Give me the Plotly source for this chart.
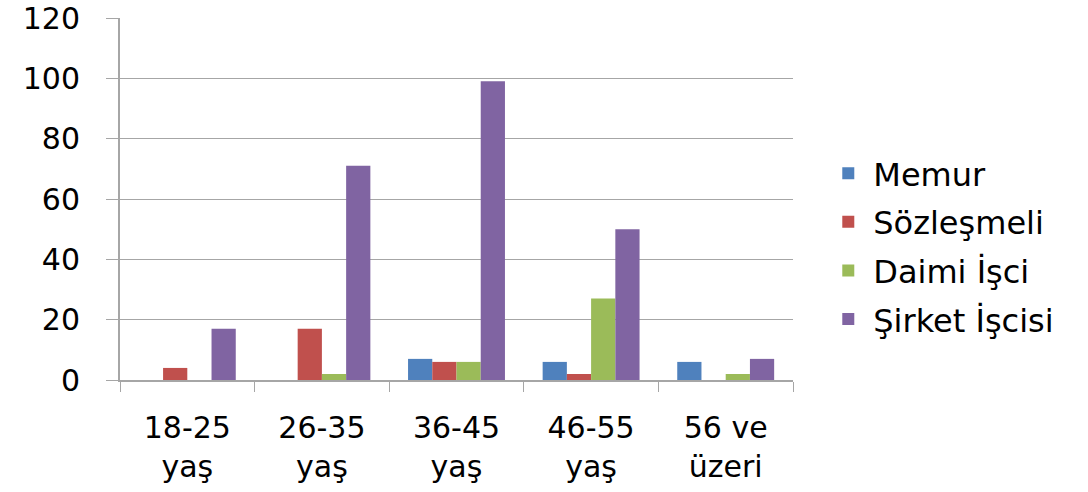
import plotly.graph_objects as go

categories = ["18-25<br>yaş", "26-35<br>yaş", "36-45<br>yaş", "46-55<br>yaş", "56 ve<br>üzeri"]
memur = [0, 0, 7, 6, 6]
sozlesmeli = [4, 17, 6, 2, 0]
daimi_isci = [0, 2, 6, 27, 2]
sirket_iscisi = [17, 71, 99, 50, 7]

series = [
    ("Memur", memur, "#4F81BD"),
    ("Sözleşmeli", sozlesmeli, "#C0504D"),
    ("Daimi İşci", daimi_isci, "#9BBB59"),
    ("Şirket İşcisi", sirket_iscisi, "#8064A2"),
]

fig = go.Figure()
for i, (name, vals, color) in enumerate(series):
    fig.add_trace(go.Bar(
        x=categories, y=vals, name=name, marker_color=color,
        marker_line_width=0, legendgroup=f"g{i}",
    ))

font_family = "DejaVu Sans, Verdana, sans-serif"
fig.update_layout(
    width=1088, height=492,
    paper_bgcolor="white", plot_bgcolor="white",
    margin=dict(l=120, r=295, t=18, b=112),
    barmode="group", bargap=0.28, bargroupgap=0,
    font=dict(family=font_family, size=30, color="#000000"),
    showlegend=True,
    legend=dict(
        x=1.045, xanchor="left", y=0.369, yanchor="middle",
        font=dict(size=32, color="#000000"),
        tracegroupgap=4, itemwidth=40,
        bgcolor="rgba(0,0,0,0)",
    ),
)
fig.update_yaxes(
    range=[0, 120], dtick=20, showgrid=True, gridcolor="#A6A6A6", gridwidth=1,
    showline=True, linecolor="#A6A6A6", linewidth=2,
    ticks="outside", ticklen=12, tickcolor="#A6A6A6",
    tickfont=dict(size=30), zeroline=False, automargin=False,
    ticklabelstandoff=20, ticklabeloverflow="allow",
)
fig.update_xaxes(
    showline=True, linecolor="#A6A6A6", linewidth=2,
    ticks="outside", ticklen=10, tickcolor="#A6A6A6", tickson="boundaries",
    tickfont=dict(size=30), mirror=False, automargin=False,
    ticklabelstandoff=20,
)

fig.write_html(
    "out.html",
    config={"displayModeBar": False},
    post_script="document.body.style.margin='0';document.body.style.overflow='hidden';",
)
